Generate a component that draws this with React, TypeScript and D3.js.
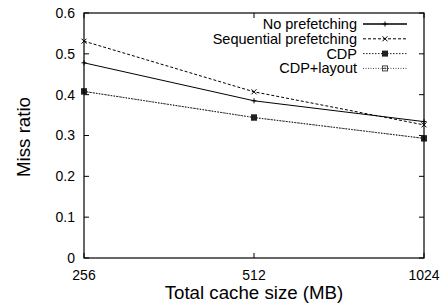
import React, { useEffect, useRef } from "react";
import { select, scaleLog, scaleLinear, line } from "d3";

// chart data
const cacheSizes = [256, 512, 1024];
const noPrefetching = [0.478, 0.385, 0.334];
const sequentialPrefetching = [0.531, 0.407, 0.326];
const cdp = [0.408, 0.344, 0.293];
const cdpLayout = [0.408, 0.344, 0.293];
const yTicks = [0, 0.1, 0.2, 0.3, 0.4, 0.5, 0.6];
const seriesNames = ["No prefetching", "Sequential prefetching", "CDP", "CDP+layout"];

const width = 443;
const height = 304;
const margin = { top: 13, right: 19, bottom: 46, left: 84 };
const innerWidth = width - margin.left - margin.right;
const innerHeight = height - margin.top - margin.bottom;
const font = "'Liberation Sans', Arial, Helvetica, sans-serif";

const styles = [
  { color: "#000", dash: null, marker: "plus" },
  { color: "#000", dash: "3,2", marker: "cross" },
  { color: "#222", dash: "1.5,1.5", marker: "filled" },
  { color: "#444", dash: "1,1.5", marker: "open" },
];

function App() {
  const svgRef = useRef(null);

  useEffect(() => {
    const svg = select(svgRef.current);
    svg.selectAll("*").remove();

    const xScale = scaleLog().base(2).domain([256, 1024]).range([0, innerWidth]);
    const yScale = scaleLinear().domain([0, 0.6]).range([innerHeight, 0]);

    const g = svg.append("g").attr("transform", `translate(${margin.left},${margin.top})`);

    // ticks (mirrored, pointing inward)
    yTicks.forEach(t => {
      const y = yScale(t);
      g.append("line").attr("x1", 0).attr("x2", 5).attr("y1", y).attr("y2", y).attr("stroke", "#000");
      g.append("line").attr("x1", innerWidth - 5).attr("x2", innerWidth).attr("y1", y).attr("y2", y).attr("stroke", "#000");
      g.append("text")
        .attr("x", -9)
        .attr("y", y)
        .attr("dy", "0.35em")
        .attr("text-anchor", "end")
        .attr("font-size", 14)
        .attr("font-family", font)
        .text(t === 0 ? "0" : t.toFixed(1));
    });
    cacheSizes.forEach(c => {
      const x = xScale(c);
      g.append("line").attr("x1", x).attr("x2", x).attr("y1", innerHeight).attr("y2", innerHeight - 5).attr("stroke", "#000");
      g.append("line").attr("x1", x).attr("x2", x).attr("y1", 0).attr("y2", 5).attr("stroke", "#000");
      g.append("text")
        .attr("x", x)
        .attr("y", innerHeight + 22)
        .attr("text-anchor", "middle")
        .attr("font-size", 14)
        .attr("font-family", font)
        .text(c);
    });

    const series = [noPrefetching, sequentialPrefetching, cdp, cdpLayout];
    const lineGen = line()
      .x((d, i) => xScale(cacheSizes[i]))
      .y(d => yScale(d));

    const drawMarker = (sel, kind, x, y, color) => {
      if (kind === "plus") {
        sel.append("path").attr("d", `M${x - 2.5},${y}H${x + 2.5}M${x},${y - 2.5}V${y + 2.5}`).attr("stroke", color);
      } else if (kind === "cross") {
        sel.append("path").attr("d", `M${x - 2.5},${y - 2.5}L${x + 2.5},${y + 2.5}M${x - 2.5},${y + 2.5}L${x + 2.5},${y - 2.5}`).attr("stroke", color);
      } else if (kind === "filled") {
        sel.append("rect").attr("x", x - 3).attr("y", y - 3).attr("width", 6).attr("height", 6).attr("fill", color);
      } else {
        sel.append("rect").attr("x", x - 2.5).attr("y", y - 2.5).attr("width", 5).attr("height", 5).attr("fill", "none").attr("stroke", color);
        sel.append("rect").attr("x", x - 0.8).attr("y", y - 0.8).attr("width", 1.6).attr("height", 1.6).attr("fill", color);
      }
    };

    // draw in reverse so "No prefetching" sits on top
    [3, 2, 1, 0].forEach(si => {
      const st = styles[si];
      g.append("path")
        .attr("d", lineGen(series[si]))
        .attr("fill", "none")
        .attr("stroke", st.color)
        .attr("stroke-width", 1)
        .attr("stroke-dasharray", st.dash);
      series[si].forEach((v, i) => drawMarker(g, st.marker, xScale(cacheSizes[i]), yScale(v), st.color));
    });

    // legend
    const legend = g.append("g").attr("transform", `translate(${273 - 0},${11})`);
    seriesNames.forEach((name, i) => {
      const st = styles[i];
      const y = i * 14.8;
      legend.append("text")
        .attr("x", 0)
        .attr("y", y)
        .attr("dy", "0.35em")
        .attr("text-anchor", "end")
        .attr("font-size", 14.5)
        .attr("font-family", font)
        .text(name);
      legend.append("line")
        .attr("x1", 6).attr("x2", 50)
        .attr("y1", y).attr("y2", y)
        .attr("stroke", st.color)
        .attr("stroke-width", i === 0 ? 1.3 : 1)
        .attr("stroke-dasharray", st.dash);
      drawMarker(legend, st.marker, 28, y, st.color);
    });

    // frame
    g.append("rect")
      .attr("width", innerWidth)
      .attr("height", innerHeight)
      .attr("fill", "none")
      .attr("stroke", "#000")
      .attr("stroke-width", 1.2);

    // axis titles
    svg.append("text")
      .attr("x", margin.left + innerWidth / 2)
      .attr("y", 299)
      .attr("text-anchor", "middle")
      .attr("font-size", 18.7)
      .attr("font-family", font)
      .text("Total cache size (MB)");

    svg.append("text")
      .attr("transform", `translate(30,137) rotate(-90)`)
      .attr("text-anchor", "middle")
      .attr("font-size", 18.7)
      .attr("font-family", font)
      .text("Miss ratio");
  }, []);

  return (
    <div style={{ position: "fixed", left: 0, top: 0, background: "#fff" }}>
      <svg ref={svgRef} width={width} height={height} style={{ display: "block" }} />
    </div>
  );
}

export default App;
